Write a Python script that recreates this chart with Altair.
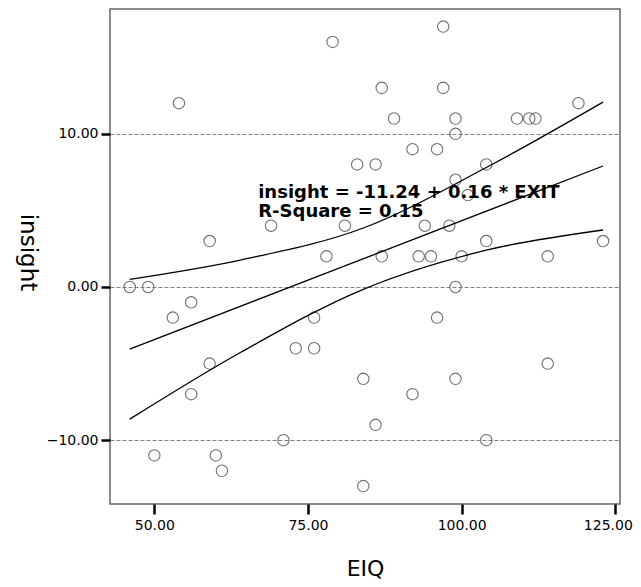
import altair as alt
import pandas as pd

# Scatter data (EIQ vs insight)
eiq = [97, 79, 87, 97, 54, 119, 89, 99, 109, 111,
       112, 99, 92, 96, 83, 86, 104, 99, 101, 69,
       81, 94, 98, 59, 104, 123, 78, 87, 93, 95,
       100, 114, 46, 49, 99, 56, 53, 76, 96, 73,
       76, 59, 114, 84, 99, 56, 92, 86, 71, 104,
       50, 60, 61, 84]
insight = [17, 16, 13, 13, 12, 12, 11, 11, 11, 11,
           11, 10, 9, 9, 8, 8, 8, 7, 6, 4,
           4, 4, 4, 3, 3, 3, 2, 2, 2, 2,
           2, 2, 0, 0, 0, -1, -2, -2, -2, -4,
           -4, -5, -5, -6, -6, -7, -7, -9, -10, -10,
           -11, -11, -12, -13]

# Fitted line and confidence band
fit_x = [46, 123]
fit_y = [-4.06, 7.9]
band_x = [46, 64, 84, 104, 123]
band_upper = [0.5, 1.76, 3.85, 7.8, 12.07]
band_lower = [-8.63, -4.28, -0.15, 2.4, 3.72]

x_ticks = [50, 75, 100, 125]
y_ticks = [-10, 0, 10]

annot_lines = ["insight = -11.24 + 0.16 * EXIT", "R-Square = 0.15"]
annot_x = [66.9]
annot_y = [6.15]

pts = pd.DataFrame({"EIQ": eiq, "insight": insight})
fit = pd.DataFrame({"EIQ": fit_x, "insight": fit_y})
band = pd.concat([
    pd.DataFrame({"EIQ": band_x, "insight": band_upper, "band": "upper"}),
    pd.DataFrame({"EIQ": band_x, "insight": band_lower, "band": "lower"}),
])
ann = pd.DataFrame({"EIQ": annot_x, "insight": annot_y,
                    "label": ["\n".join(annot_lines)]})

xs = alt.Scale(domain=[42.79, 125.76], nice=False, zero=False)
ys = alt.Scale(domain=[-14.17, 18.15], nice=False, zero=False)

x_axis = alt.Axis(values=x_ticks, format=".2f", title="EIQ", grid=False,
                  domain=False, tickColor="black", tickWidth=2.5, tickSize=10,
                  labelFont="DejaVu Sans", labelFontSize=14, labelColor="black",
                  labelPadding=4, labelFlush=8, labelFlushOffset=17,
                  titleFont="DejaVu Sans", titleFontSize=22,
                  titleFontWeight="normal", titleColor="black",
                  titleY=64, titleBaseline="middle")
y_axis = alt.Axis(values=y_ticks, format=".2f", title="insight", grid=True,
                  gridDash=[4, 2], gridColor="#808080", gridWidth=1, gridOpacity=1,
                  domain=False, tickColor="black", tickWidth=2.5, tickSize=9,
                  labelFont="DejaVu Sans", labelFontSize=14, labelColor="black",
                  labelPadding=3, titleFont="DejaVu Sans", titleFontSize=23,
                  titleFontWeight="normal", titleColor="black", titleAngle=90,
                  titleX=-83, titleY=243, titleBaseline="middle", titleAlign="center")

X = lambda: alt.X("EIQ:Q", scale=xs, axis=x_axis)
Y = lambda: alt.Y("insight:Q", scale=ys, axis=y_axis)

points = alt.Chart(pts).mark_point(shape="circle", filled=False, size=130,
                                   color="#707070", strokeWidth=1.1, opacity=1).encode(x=X(), y=Y())
fit_line = alt.Chart(fit).mark_line(color="black", strokeWidth=1.3).encode(x=X(), y=Y())
band_lines = alt.Chart(band).mark_line(color="black", strokeWidth=1.3,
                                       interpolate="monotone").encode(
    x=X(), y=Y(), detail="band:N")
text = alt.Chart(ann).mark_text(align="left", baseline="middle", font="DejaVu Sans",
                                fontSize=18, fontWeight="bold", color="black",
                                lineBreak="\n", lineHeight=19).encode(
    x=X(), y=Y(), text="label:N")

chart = alt.layer(points, fit_line, band_lines, text).properties(
    width=510, height=495,
    autosize=alt.AutoSizeParams(type="none"),
    padding={"left": 102, "top": 1, "right": 13, "bottom": 75},
    background="white",
).configure_view(stroke="#666666", strokeWidth=1.5)

chart.save("out.html", embed_options={"renderer": "svg", "actions": False})
